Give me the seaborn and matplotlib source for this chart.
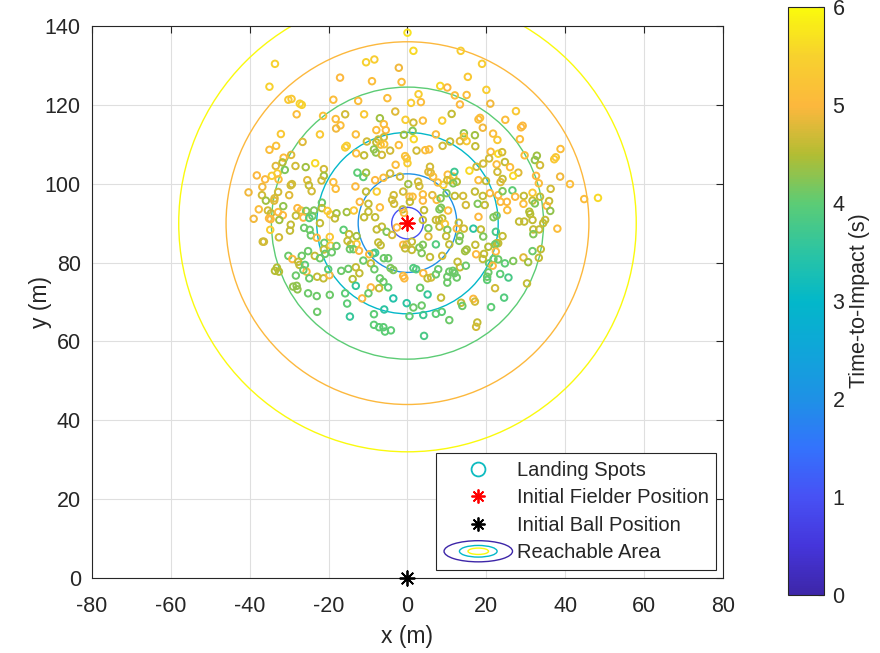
import numpy as np
import pandas as pd
import matplotlib
matplotlib.use("Agg")
import matplotlib.pyplot as plt
import seaborn as sns
from matplotlib.colors import LinearSegmentedColormap, Normalize
from matplotlib.patches import Circle, Ellipse
from matplotlib.lines import Line2D
from matplotlib.legend_handler import HandlerBase
from matplotlib.cm import ScalarMappable

# landing spots (x, y in m, time-to-impact in s)
land_x = [
    -33.6, -35.0, -17.1, -30.2, -29.4, -27.3, -26.8, -18.8, -12.5, -28.1,
    -21.4, -15.8, -11.0, -18.2, -17.0, -18.1, -32.1, -22.2, -13.1, 0.0,
    1.5, 13.5, -10.5, -8.4, -2.2, 18.9, -9.0, -1.5, 15.3, 8.3,
    10.1, -5.1, 2.8, 3.4, 0.9, 12.0, 15.0, 13.3, -7.0, -6.0,
    -3.1, -0.5, 1.5, 3.9, 1.3, 11.2, 8.8, 18.0, 18.4, 19.1,
    -7.9, -5.5, 7.2, 20.0, 21.0, 27.5, 24.8, 28.8, 29.2, 21.7,
    -26.6, -33.3, -35.0, -15.8, -15.4, -13.0, -29.5, -31.4, -31.7, -33.4,
    -28.4, -23.4, -25.8, -31.1, -21.2, -38.2, -36.1, -34.4, -33.0, -32.7,
    -21.2, -21.8, -25.4, -18.8, -12.7, -11.2, -40.3, -36.8, -36.9, -35.9,
    -33.7, -33.8, -32.8, -29.6, -29.3, -30.0, -25.0, -24.3, -18.2, -13.2,
    -12.1, -37.7, -35.4, -34.6, -35.1, -34.7, -32.8, -31.6, -31.5, -32.5,
    -39.0, -27.9, -27.0, -28.3, -25.7, -23.7, -26.4, -24.9, -24.1, -21.7,
    -21.7, -20.3, -19.6, -18.0, -18.4, -15.4, -13.6, -22.2, -34.8, -29.6,
    -29.8, -26.2, -24.8, -24.5, -23.0, -19.7, -16.2, -14.8, -12.9, -32.6,
    -10.3, -7.9, -7.4, -6.0, -6.8, -5.9, -2.2, 1.6, -0.9, 14.3,
    17.1, 8.9, 10.8, 14.3, 15.0, 13.3, 17.2, -11.0, -8.5, -8.0,
    -6.5, -4.4, -0.6, -0.2, 0.0, 2.3, 4.5, 5.5, -3.0, 5.7,
    5.3, 5.9, 10.2, 11.6, 10.8, 11.9, 15.7, 17.5, 18.0, -10.5,
    -8.2, -6.1, -4.4, -1.9, 0.2, 2.7, 3.0, 6.5, 7.7, 9.1,
    10.1, 12.5, 11.6, -10.5, -7.8, -1.1, 3.9, 6.3, 9.9, 12.0,
    14.1, 17.1, -3.5, -3.9, 0.5, 1.3, 0.6, 3.9, 7.4, 8.4,
    -9.9, -9.9, -7.0, -3.4, -1.2, 4.2, 8.1, 8.5, 10.3, 14.8,
    17.8, 18.0, -8.2, -11.0, -6.5, -5.3, -7.8, -2.7, -0.9, 3.9,
    5.3, 7.2, 8.0, 8.8, 8.1, 9.5, 10.1, 13.0, 12.5, 16.7,
    18.6, 14.3, -3.9, 5.3, 9.8, 13.3, 22.8, 28.5, 21.1, 23.0,
    24.0, 20.7, 19.2, 22.6, 24.7, 26.0, 22.8, 28.1, 26.8, 24.1,
    23.6, 29.7, 32.8, 32.3, 33.6, 37.2, 37.6, 38.8, 32.6, 38.7,
    33.3, 41.2, 19.9, 36.3, 44.8, 48.3, 20.9, 23.0, 24.1, 26.6,
    31.7, 29.5, 19.1, 19.6, 23.6, 25.2, 27.3, 29.4, 25.3, 31.7,
    32.3, 33.6, 35.9, 35.3, 36.2, 30.9, 31.1, 21.8, 22.6, 28.3,
    29.6, 31.7, 34.9, 34.4, 38.0, 31.9, 33.4, 31.9, 22.4, 24.1,
    19.2, -36.4, -36.7, -21.1, -19.5, -18.0, -21.2, -15.2, -14.4, -12.9,
    -14.6, -13.7, -12.3, -11.2, -25.2, -26.8, -23.5, -22.2, -20.9, -19.2,
    -30.2, -29.2, -27.7, -27.4, -26.0, -25.6, -26.4, -33.6, -32.6, -33.1,
    -28.3, -24.9, -22.9, -21.3, -19.8, -20.1, -16.8, -15.0, -13.1, -12.2,
    -13.9, -13.1, -29.0, -28.1, -27.9, -25.2, -23.0, -19.7, -15.8, -11.5,
    -15.3, -22.9, -14.6, -7.4, -6.8, -1.1, -0.2, -0.6, 1.1, 1.1,
    3.0, 3.9, 3.6, 7.2, 10.6, 13.1, 17.2, 15.0, 14.6, -8.2,
    -8.7, -9.7, -6.0, -4.9, -9.3, 5.7, 8.8, 12.7, 13.3, 14.8,
    17.4, -8.4, -4.3, -3.6, 1.5, 2.2, 4.0, 5.1, 6.0, 7.2,
    7.8, 10.6, 11.5, 11.9, 10.1, 12.5, 10.1, -1.1, -0.8, -7.0,
    -6.1, -4.9, -7.2, -9.3, -9.9, 3.2, 5.1, 8.5, -3.6, -0.2,
    1.5, 3.6, -5.9, -8.5, 0.5, 4.0, 7.2, 8.7, 13.6, 13.9,
    16.7, 17.1, 10.6, 17.7, 17.4, -8.5, -7.2, -6.1, -5.7, -4.2,
    4.2, 22.6, 23.0, 22.2, 20.5, 22.4, 19.4, 31.7, 33.8, 29.4,
    30.6, 33.3, 26.8, 24.7, 21.8, 23.0, 19.1, 20.7, 21.6, 20.5,
    20.2, 20.2, 23.5, 25.6, 30.3, 22.2, 24.5, 21.2,
]
land_y = [
    130.4, 124.6, 126.9, 121.3, 121.5, 120.3, 120.0, 121.3, 121.0, 117.6,
    117.2, 117.6, 117.6, 116.4, 114.8, 114.0, 112.6, 112.5, 112.5, 138.3,
    133.7, 133.7, 130.8, 131.5, 129.4, 130.4, 126.0, 125.8, 127.1, 124.8,
    124.4, 121.7, 122.7, 120.7, 120.5, 122.4, 122.5, 120.1, 116.6, 115.1,
    118.3, 116.2, 115.5, 116.0, 113.4, 117.7, 116.0, 116.3, 116.7, 114.2,
    113.6, 113.6, 112.5, 123.8, 120.3, 118.4, 116.2, 114.3, 114.7, 112.7,
    110.6, 109.6, 108.6, 109.2, 109.6, 107.7, 107.3, 106.6, 105.4, 104.5,
    104.5, 105.2, 104.2, 103.5, 103.7, 102.1, 101.1, 102.0, 102.6, 101.1,
    102.0, 100.8, 100.9, 100.4, 102.8, 101.7, 97.8, 99.2, 97.1, 95.7,
    96.3, 95.7, 97.9, 99.6, 99.9, 97.1, 99.6, 98.1, 98.7, 99.3,
    95.4, 93.5, 93.2, 92.5, 91.2, 91.0, 92.8, 92.0, 94.3, 90.8,
    91.1, 93.8, 93.2, 91.9, 93.1, 93.2, 91.4, 91.3, 91.8, 95.2,
    93.8, 93.1, 92.2, 92.5, 91.2, 92.8, 93.2, 90.0, 88.3, 89.6,
    88.1, 88.8, 88.3, 86.9, 86.3, 86.5, 88.3, 87.2, 86.7, 86.4,
    110.7, 110.5, 111.2, 111.8, 109.9, 110.0, 109.8, 111.3, 112.4, 112.8,
    112.3, 109.6, 110.7, 111.9, 110.8, 110.8, 109.5, 107.2, 108.7, 107.9,
    107.3, 108.4, 107.0, 106.4, 105.2, 108.4, 108.5, 108.7, 104.8, 104.3,
    103.0, 102.8, 102.3, 101.8, 100.9, 103.0, 103.3, 104.3, 100.9, 102.8,
    100.9, 101.5, 102.6, 101.8, 99.9, 100.5, 99.4, 101.8, 100.3, 99.7,
    100.9, 100.5, 100.1, 98.0, 98.0, 98.0, 97.3, 97.1, 97.6, 96.9,
    96.9, 98.0, 97.1, 95.9, 96.7, 96.7, 95.4, 95.7, 95.9, 96.3,
    94.9, 92.9, 94.0, 94.9, 93.5, 93.3, 93.5, 93.9, 93.2, 94.6,
    94.9, 91.6, 91.5, 91.5, 89.1, 87.8, 88.4, 88.9, 92.6, 90.8,
    88.7, 90.8, 90.8, 91.2, 89.1, 89.8, 88.3, 90.1, 88.6, 88.6,
    88.4, 88.6, 87.0, 86.6, 86.7, 86.7, 111.1, 111.3, 108.1, 107.6,
    108.0, 106.4, 105.1, 104.9, 105.5, 104.2, 103.0, 102.8, 102.0, 101.2,
    100.4, 107.2, 107.1, 106.0, 104.7, 106.2, 106.7, 108.8, 102.0, 101.8,
    100.1, 99.9, 100.7, 98.7, 96.1, 96.4, 97.6, 97.1, 98.1, 98.3,
    97.7, 96.9, 96.9, 94.6, 95.4, 95.4, 96.7, 94.9, 93.3, 95.7,
    95.0, 96.7, 95.6, 94.4, 93.1, 92.9, 92.3, 91.5, 91.9, 90.4,
    90.4, 90.8, 90.8, 90.0, 88.6, 88.4, 88.4, 87.2, 87.8, 86.7,
    86.6, 85.3, 85.3, 85.0, 84.3, 84.2, 83.3, 85.5, 84.6, 84.7,
    83.4, 83.4, 83.0, 80.5, 82.9, 81.7, 81.7, 81.1, 82.2, 82.6,
    81.7, 80.9, 80.2, 79.4, 79.4, 77.7, 78.1, 77.9, 77.7, 78.7,
    76.7, 76.0, 76.4, 76.0, 76.8, 78.3, 77.9, 78.4, 78.8, 77.3,
    75.8, 74.1, 73.9, 74.1, 73.2, 72.2, 71.5, 71.8, 72.2, 70.9,
    69.6, 67.5, 66.3, 85.1, 84.4, 84.5, 84.6, 83.6, 85.3, 83.2,
    83.8, 84.5, 82.4, 84.6, 84.6, 85.5, 84.5, 83.3, 82.9, 82.5,
    82.3, 82.1, 81.1, 81.1, 79.8, 81.4, 81.7, 80.2, 78.8, 79.2,
    82.1, 78.3, 78.6, 78.1, 78.6, 78.3, 77.3, 76.0, 76.2, 77.0,
    78.3, 77.7, 77.9, 77.3, 76.4, 76.2, 74.9, 76.6, 76.0, 76.0,
    75.1, 73.7, 73.5, 73.7, 72.2, 73.6, 71.9, 71.1, 70.9, 69.7,
    68.6, 69.1, 68.1, 66.9, 66.4, 66.7, 67.0, 67.5, 69.8, 69.0,
    70.8, 70.1, 65.4, 64.8, 63.7, 64.2, 63.6, 63.6, 62.5, 62.8,
    61.4, 84.9, 84.9, 84.6, 84.0, 82.8, 82.2, 82.9, 83.4, 81.3,
    80.1, 81.2, 80.4, 79.8, 80.9, 80.8, 80.9, 79.8, 79.2, 77.5,
    76.4, 75.6, 77.1, 76.2, 74.7, 73.5, 71.1, 68.7,
]
land_t = [
    5.5, 5.5, 5.0, 5.3, 5.3, 5.5, 5.5, 5.1, 5.1, 5.1,
    5.2, 4.7, 5.3, 5.1, 5.1, 4.9, 5.3, 5.3, 5.1, 5.7,
    5.6, 5.4, 5.5, 5.4, 4.9, 5.4, 5.1, 5.1, 5.3, 5.6,
    5.0, 5.1, 5.4, 5.1, 5.4, 5.1, 5.1, 5.0, 4.4, 5.1,
    4.8, 5.4, 4.7, 5.1, 4.2, 4.6, 5.4, 5.1, 5.1, 4.9,
    5.1, 5.0, 5.1, 5.4, 4.9, 5.3, 5.1, 5.0, 5.0, 5.1,
    4.8, 5.2, 5.1, 5.4, 5.4, 5.1, 4.8, 5.1, 4.5, 4.8,
    4.7, 5.6, 4.4, 4.2, 4.7, 5.0, 5.0, 5.4, 5.4, 5.1,
    4.4, 4.7, 4.8, 5.1, 4.0, 4.0, 4.9, 4.9, 4.7, 4.4,
    4.8, 4.8, 4.7, 4.7, 4.7, 4.8, 4.6, 4.7, 5.1, 5.0,
    5.0, 5.1, 4.7, 4.6, 5.0, 5.0, 5.0, 5.0, 4.3, 4.4,
    4.9, 5.0, 5.1, 4.6, 4.2, 4.2, 5.0, 3.9, 4.1, 4.1,
    4.5, 5.3, 5.3, 4.4, 4.6, 4.4, 5.3, 4.6, 5.4, 4.6,
    4.6, 4.1, 4.1, 4.1, 5.0, 5.3, 4.0, 4.6, 4.4, 4.7,
    4.7, 4.6, 4.6, 4.7, 5.2, 5.2, 5.1, 5.6, 4.4, 4.3,
    4.4, 4.7, 4.6, 5.3, 5.3, 4.8, 4.6, 4.6, 4.3, 4.3,
    4.7, 4.7, 5.2, 5.2, 5.4, 4.7, 5.1, 5.1, 5.1, 4.7,
    4.8, 4.8, 5.1, 5.1, 5.3, 3.7, 5.6, 4.7, 5.1, 4.4,
    5.0, 5.1, 4.7, 4.7, 4.4, 4.7, 4.7, 5.1, 5.1, 5.4,
    4.7, 4.5, 4.2, 4.6, 5.4, 4.7, 5.1, 4.8, 4.2, 4.6,
    4.7, 4.6, 4.7, 4.7, 5.1, 5.1, 4.6, 5.0, 5.1, 4.2,
    4.6, 4.6, 5.1, 4.7, 4.6, 4.6, 4.2, 4.2, 5.1, 4.7,
    4.2, 5.0, 4.6, 4.6, 4.6, 4.2, 4.6, 5.0, 5.0, 4.6,
    4.2, 4.6, 4.7, 4.5, 4.6, 5.3, 4.2, 4.6, 5.0, 3.5,
    4.6, 4.7, 4.7, 4.8, 4.6, 4.2, 5.3, 5.1, 5.1, 5.6,
    4.7, 4.7, 4.7, 5.1, 4.6, 5.1, 4.7, 4.8, 5.6, 4.6,
    4.8, 5.1, 4.4, 4.3, 4.7, 5.3, 5.3, 5.1, 5.0, 4.9,
    5.1, 5.1, 4.6, 4.7, 5.1, 5.6, 5.0, 5.0, 4.2, 4.0,
    5.3, 4.6, 4.6, 4.6, 5.0, 5.0, 5.0, 5.1, 5.1, 4.6,
    4.2, 4.6, 4.6, 5.0, 4.3, 4.5, 4.5, 4.2, 4.2, 4.6,
    4.6, 4.6, 4.6, 4.6, 5.1, 4.6, 4.6, 4.2, 3.8, 4.6,
    4.2, 4.7, 4.7, 4.1, 5.3, 4.1, 4.6, 4.6, 4.6, 5.3,
    4.1, 4.1, 5.0, 4.1, 4.1, 4.1, 4.6, 4.1, 4.1, 4.1,
    4.1, 5.0, 4.6, 4.6, 4.0, 5.0, 4.1, 4.5, 4.5, 4.5,
    4.1, 4.1, 4.6, 4.6, 5.0, 4.0, 4.1, 4.1, 4.6, 4.6,
    4.5, 3.6, 4.3, 4.3, 4.3, 4.1, 4.1, 4.1, 4.0, 5.0,
    4.0, 4.1, 3.6, 4.6, 4.6, 5.0, 4.8, 4.6, 4.6, 4.6,
    4.2, 4.2, 4.2, 3.9, 4.6, 4.2, 4.6, 4.4, 4.4, 3.8,
    3.8, 5.0, 4.1, 4.1, 4.6, 4.6, 4.7, 4.6, 4.6, 4.1,
    5.0, 4.1, 4.2, 4.2, 3.9, 3.9, 5.0, 4.6, 4.7, 4.1,
    4.1, 4.1, 4.1, 4.1, 4.1, 4.1, 4.1, 5.0, 5.0, 4.1,
    4.1, 4.0, 4.6, 5.0, 4.1, 4.1, 3.6, 4.6, 3.4, 3.5,
    4.1, 4.1, 3.5, 4.0, 4.0, 3.7, 4.0, 4.0, 4.6, 4.1,
    5.0, 4.7, 4.1, 4.6, 4.7, 4.0, 4.0, 4.0, 4.0, 4.0,
    3.8, 4.5, 4.6, 4.1, 4.5, 5.0, 4.6, 4.1, 4.6, 4.8,
    4.4, 4.6, 4.2, 4.0, 4.1, 4.1, 4.6, 4.1, 5.0, 4.1,
    4.1, 4.0, 4.0, 3.8, 4.6, 4.7, 3.9, 4.0,
]

fielder_pos = (0, 90)
ball_pos = (0, 0)
reach_t = [1, 2, 3, 4, 5, 6]
reach_r = [4, 12.5, 23, 34.5, 46, 58]

# parula-like colormap
parula = LinearSegmentedColormap.from_list("parula", [
    (0.000, (0.24, 0.15, 0.66)),
    (0.083, (0.27, 0.21, 0.86)),
    (0.167, (0.28, 0.32, 0.96)),
    (0.250, (0.20, 0.45, 0.99)),
    (0.333, (0.12, 0.57, 0.90)),
    (0.417, (0.06, 0.65, 0.85)),
    (0.500, (0.01, 0.72, 0.79)),
    (0.583, (0.17, 0.77, 0.64)),
    (0.667, (0.36, 0.80, 0.46)),
    (0.750, (0.70, 0.74, 0.20)),
    (0.833, (0.99, 0.72, 0.24)),
    (0.917, (0.97, 0.82, 0.18)),
    (1.000, (0.98, 0.98, 0.05)),
])
norm = Normalize(0, 6)

sns.set_style("white")
plt.rcParams['font.family'] = ['Liberation Sans', 'DejaVu Sans']
plt.rcParams['axes.unicode_minus'] = False
axcol = '#262626'

fig = plt.figure(figsize=(8.8, 6.53), dpi=100)
ax = fig.add_axes([0.1045, 0.1149, 0.7171, 0.8453])

for t, r in zip(reach_t, reach_r):
    ax.add_patch(Circle(fielder_pos, r, fill=False, edgecolor=parula(norm(t)),
                        lw=1.0, zorder=2))

df = pd.DataFrame({'x': land_x, 'y': land_y, 't': land_t})
sns.scatterplot(data=df, x='x', y='y', hue='t', palette=parula, hue_norm=norm,
                legend=False, s=22, linewidth=1.4, ax=ax, zorder=3)
pts = ax.collections[-1]
pts.set_edgecolors(pts.get_facecolors())
pts.set_facecolors('none')

star = (8, 2, 0)
ax.scatter(*fielder_pos, marker=star, s=110, c='red', linewidths=1.3, zorder=5)
ax.scatter(*ball_pos, marker=star, s=110, c='black', linewidths=1.3, zorder=5,
           clip_on=False)

ax.set_xlim(-80, 80)
ax.set_ylim(0, 140)
ax.set_xticks(range(-80, 81, 20))
ax.set_yticks(range(0, 141, 20))
ax.grid(True, color='#dfdfdf', linewidth=0.8)
ax.set_axisbelow(True)
ax.tick_params(direction='in', length=5, width=0.8, colors=axcol,
               top=True, right=True, labelsize=15.5)
ax.tick_params(axis='x', pad=13)
ax.tick_params(axis='y', pad=8)
for sp in ax.spines.values():
    sp.set_color(axcol)
    sp.set_linewidth(0.8)
ax.set_xlabel('x (m)', fontsize=16.5, color=axcol, labelpad=6)
ax.set_ylabel('y (m)', fontsize=16.5, color=axcol, labelpad=-5)


class ReachHandler(HandlerBase):
    def create_artists(self, legend, orig_handle, xd, yd, width, height,
                       fontsize, trans):
        cx, cy = xd + width / 2, yd + height / 2
        arts = []
        for f, c in [(1.0, parula(0.0)), (0.55, parula(0.5)), (0.3, parula(1.0))]:
            e = Ellipse((cx, cy), width * f, height * 1.5 * f, fill=False,
                        edgecolor=c, lw=1.0, transform=trans)
            arts.append(e)
        return arts


handles = [
    Line2D([], [], marker='o', ls='none', mfc='none', mec=parula(0.52),
           ms=10, mew=1.3),
    Line2D([], [], marker=star, ls='none', color='red', ms=10, mew=1.3),
    Line2D([], [], marker=star, ls='none', color='black', ms=10, mew=1.3),
    Ellipse((0, 0), 1, 1),
]
labels = ['Landing Spots', 'Initial Fielder Position', 'Initial Ball Position',
          'Reachable Area']
leg = ax.legend(handles, labels, loc='lower right', bbox_to_anchor=(0.989, 0.0145),
                borderaxespad=0, fancybox=False, framealpha=1, edgecolor=axcol,
                fontsize=14.5, handlelength=3.4, handletextpad=0.2,
                labelspacing=0.42, borderpad=0.38,
                handler_map={Ellipse: ReachHandler()})
leg.get_frame().set_linewidth(0.8)

cax = fig.add_axes([0.8955, 0.0888, 0.041, 0.9005])
cb = fig.colorbar(ScalarMappable(norm=norm, cmap=parula), cax=cax)
cb.set_ticks(range(0, 7))
cb.outline.set_edgecolor(axcol)
cb.outline.set_linewidth(0.8)
cax.tick_params(direction='in', length=4, width=0.8, colors=axcol,
                labelsize=15.5, pad=6)
cb.set_label('Time-to-Impact (s)', fontsize=15.5, color=axcol, labelpad=3)

fig.savefig('out.png', dpi=100)
